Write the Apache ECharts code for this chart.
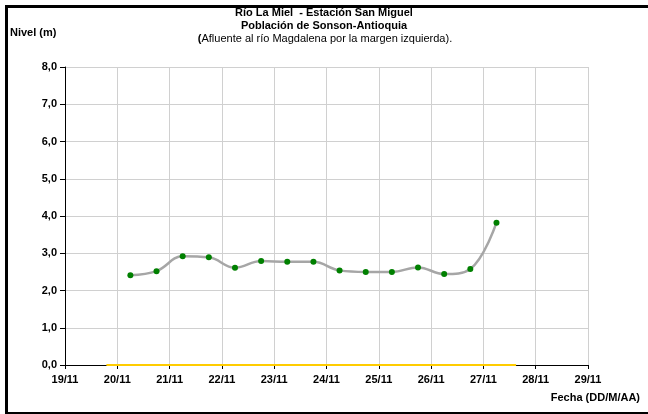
<!DOCTYPE html>
<html>
<head>
<meta charset="utf-8">
<script src="https://cdn.jsdelivr.net/npm/echarts@6/dist/echarts.min.js"></script>
<style>
    html, body { margin: 0; padding: 0; background: #fff; overflow: hidden; }
    #marco { position: absolute; left: 5px; top: 5px; width: 700px; height: 404px;
             border-left: 3px solid #000; border-top: 3px solid #000; border-bottom: 3px solid #000; }
    #grafico { position: absolute; left: 0; top: 0; width: 648px; height: 414px; }
</style>
</head>
<body>
<div id="marco"></div>
<div id="grafico"></div>
<script>
// lecturas de nivel (cada 12 horas)
var fechas = ['20/11 06:00', '20/11 18:00', '21/11 06:00', '21/11 18:00', '22/11 06:00',
              '22/11 18:00', '23/11 06:00', '23/11 18:00', '24/11 06:00', '24/11 18:00',
              '25/11 06:00', '25/11 18:00', '26/11 06:00', '26/11 18:00', '27/11 06:00'];
var niveles = [2.41, 2.52, 2.92, 2.89, 2.61, 2.79, 2.77, 2.77, 2.54, 2.50, 2.50, 2.62, 2.44, 2.58, 3.82];

// linea amarilla sobre el eje (nivel 0)
var fechasCero = ['19/11 19:00', '27/11 15:00'];
var nivelesCero = [0, 0];

var diaInicio = '19/11 00:00';
var diaFin = '29/11 00:00';
var anio = 2011;

function aTiempo(s) {
    var p = s.split(' ');
    var d = p[0].split('/');
    var h = p[1].split(':');
    return Date.UTC(anio, Number(d[1]) - 1, Number(d[0]), Number(h[0]), Number(h[1]));
}

function pares(xs, ys) {
    var out = [];
    for (var i = 0; i < xs.length; i++) {
        out.push([aTiempo(xs[i]), ys[i]]);
    }
    return out;
}

var fuente = '"Liberation Sans", Arial, sans-serif';
var DIA = 86400000;

var chart = echarts.init(document.getElementById('grafico'));
chart.setOption({
    animation: false,
    grid: { left: 65, right: 60, top: 67, bottom: 49 },
    graphic: [
        { type: 'text', left: 'center', top: 7, style: { text: 'Río La Miel  - Estación San Miguel', font: 'bold 11px ' + fuente, fill: '#000' } },
        { type: 'text', left: 'center', top: 20, style: { text: 'Población de Sonson-Antioquia', font: 'bold 11px ' + fuente, fill: '#000' } },
        { type: 'text', x: 325, y: 33, style: {
            text: '{b|(}{n|Afluente al río Magdalena por la margen izquierda).}',
            align: 'center',
            rich: {
                b: { font: 'bold 11px ' + fuente, fill: '#000' },
                n: { font: '11px ' + fuente, fill: '#000' }
            }
        } },
        { type: 'text', x: 10, y: 27, style: { text: 'Nivel (m)', font: 'bold 11px ' + fuente, fill: '#000' } },
        { type: 'text', x: 640, y: 392, style: { text: 'Fecha (DD/M/AA)', font: 'bold 11px ' + fuente, fill: '#000', align: 'right' } }
    ],
    xAxis: {
        type: 'value',
        min: aTiempo(diaInicio),
        max: aTiempo(diaFin),
        interval: DIA,
        axisLine: { lineStyle: { color: '#000', width: 1 } },
        axisTick: { show: true, length: 4, lineStyle: { color: '#000' } },
        axisLabel: {
            color: '#000', fontWeight: 'bold', fontSize: 11, fontFamily: fuente, margin: 9,
            formatter: function (v) {
                var d = new Date(v);
                return d.getUTCDate() + '/' + (d.getUTCMonth() + 1);
            }
        },
        splitLine: { show: true, lineStyle: { color: '#d0d0d0', width: 1 } }
    },
    yAxis: {
        type: 'value',
        min: 0,
        max: 8,
        interval: 1,
        axisLine: { show: true, lineStyle: { color: '#000', width: 1 } },
        axisTick: { show: true, length: 5, lineStyle: { color: '#000' } },
        axisLabel: {
            color: '#000', fontWeight: 'bold', fontSize: 11, fontFamily: fuente, margin: 8,
            formatter: function (v) { return v.toFixed(1).replace('.', ','); }
        },
        splitLine: { show: true, lineStyle: { color: '#d0d0d0', width: 1 } }
    },
    series: [
        {
            name: 'Cero',
            type: 'line',
            data: pares(fechasCero, nivelesCero),
            symbol: 'none',
            lineStyle: { color: '#ffcc00', width: 2 },
            z: 5
        },
        {
            name: 'Nivel',
            type: 'line',
            data: pares(fechas, niveles),
            smooth: 0.4,
            symbol: 'circle',
            symbolSize: 6,
            lineStyle: { color: '#a6a6a6', width: 2.5 },
            itemStyle: { color: '#008000' },
            z: 6
        }
    ]
});
</script>
</body>
</html>
